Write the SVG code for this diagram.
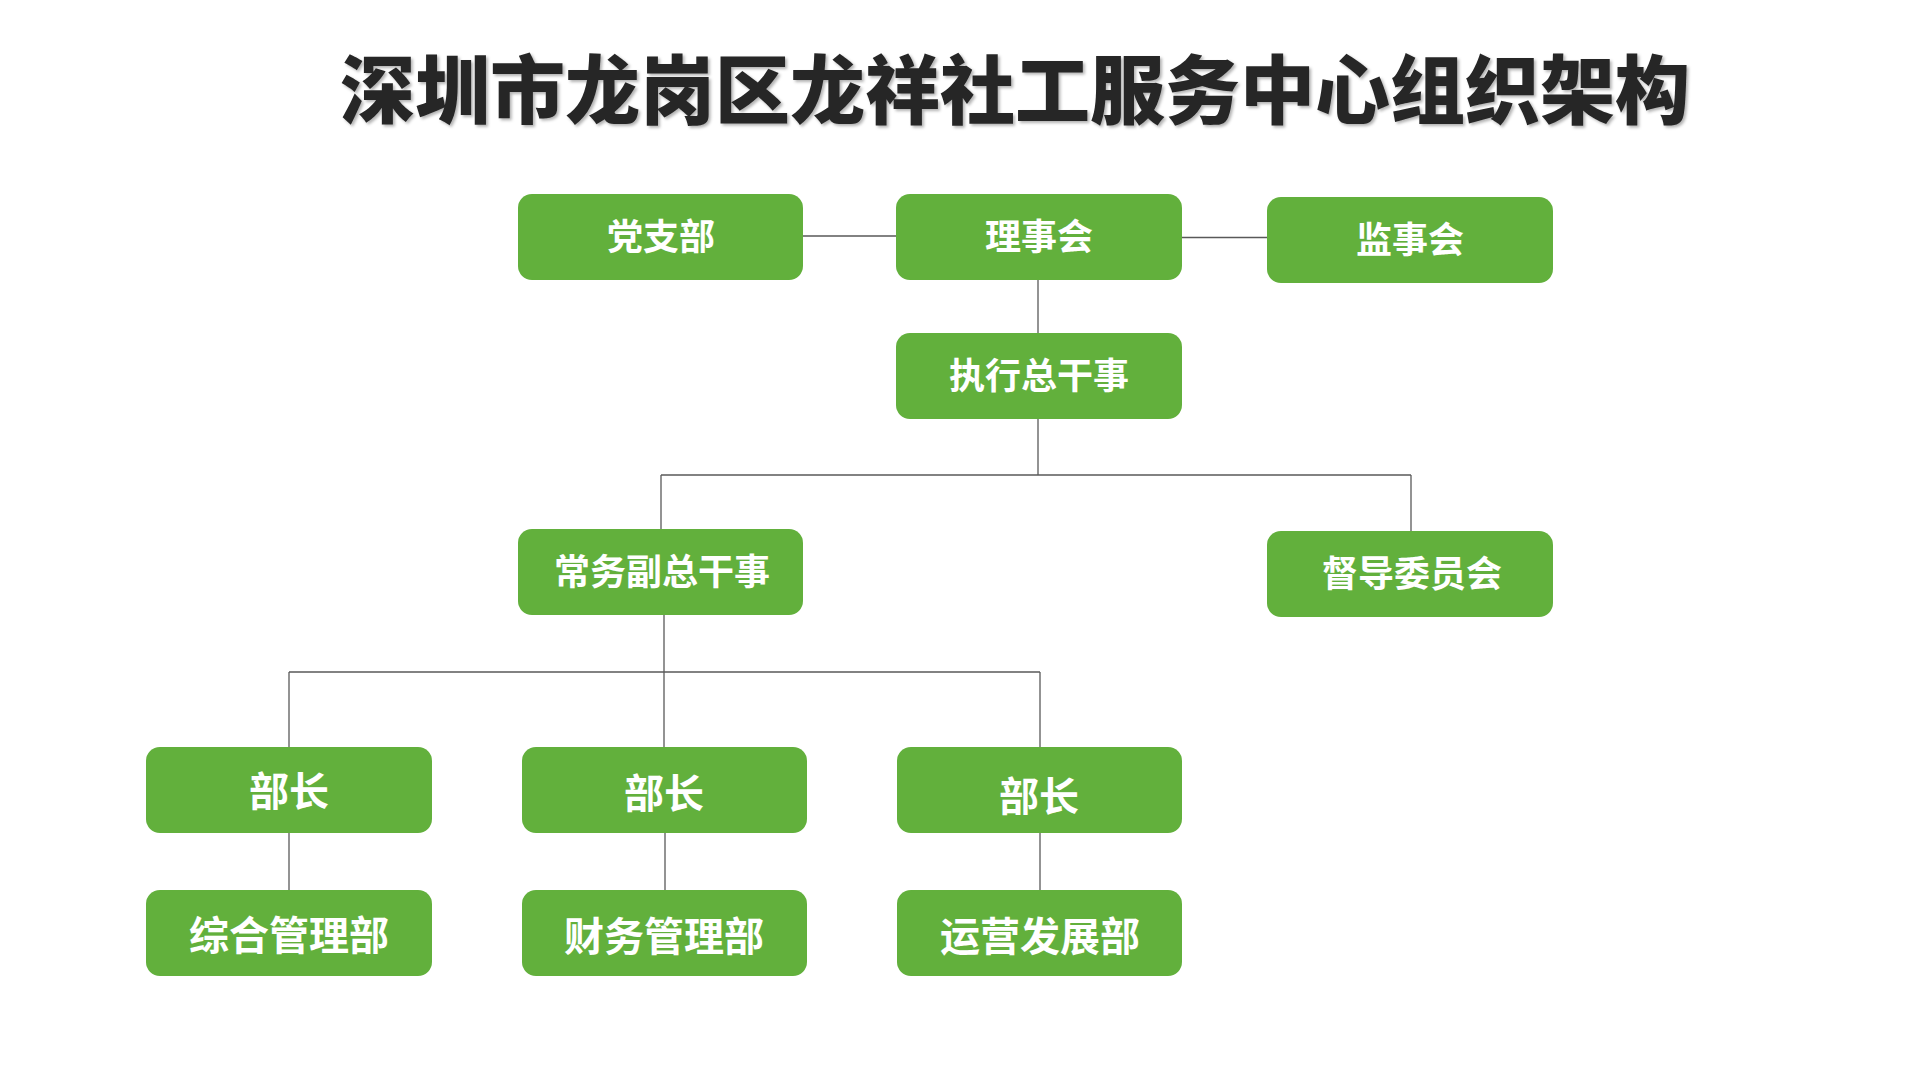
<svg xmlns="http://www.w3.org/2000/svg" width="1920" height="1080" viewBox="0 0 1920 1080">
  <defs>
    <filter id="shadow" x="-5%" y="-20%" width="110%" height="150%">
      <feDropShadow dx="2" dy="2" stdDeviation="1.5" flood-color="#000" flood-opacity="0.3"/>
    </filter>
  </defs>
  <style>
    .box { fill: #62B03C; }
    .lbl { fill: #FFFFFF; font-family: "Noto Sans CJK SC", "Noto Sans", sans-serif; font-weight: 700; text-anchor: middle; }
    .s36 { font-size: 36px; }
    .s40 { font-size: 40px; }
    .title { fill: #262626; font-family: "Noto Sans CJK SC", "Noto Sans", sans-serif; font-weight: 900; font-size: 75px; text-anchor: middle; }
    .conn line { stroke: #595959; stroke-width: 1.3; fill: none; }
  </style>
  <rect width="1920" height="1080" fill="#FFFFFF"/>
  <text class="title" x="1015" y="118" filter="url(#shadow)">深圳市龙岗区龙祥社工服务中心组织架构</text>

  <g id="connectors" class="conn">
    <line x1="803" y1="236" x2="896" y2="236"/>
    <line x1="1182" y1="237.5" x2="1267" y2="237.5"/>
    <line x1="1038" y1="280" x2="1038" y2="333"/>
    <line x1="1038" y1="419" x2="1038" y2="475"/>
    <line x1="661" y1="475" x2="1411" y2="475"/>
    <line x1="661" y1="475" x2="661" y2="529"/>
    <line x1="1411" y1="475" x2="1411" y2="531"/>
    <line x1="664" y1="615" x2="664" y2="672"/>
    <line x1="289" y1="672" x2="1040" y2="672"/>
    <line x1="289" y1="672" x2="289" y2="747"/>
    <line x1="664" y1="672" x2="664" y2="747"/>
    <line x1="1040" y1="672" x2="1040" y2="747"/>
    <line x1="289" y1="833" x2="289" y2="890"/>
    <line x1="665" y1="833" x2="665" y2="890"/>
    <line x1="1040" y1="833" x2="1040" y2="890"/>
  </g>

  <g id="node-dangzhibu">
    <rect class="box" x="518" y="194" width="285" height="86" rx="14"/>
    <text class="lbl s36" x="661" y="250">党支部</text>
  </g>
  <g id="node-lishihui">
    <rect class="box" x="896" y="194" width="286" height="86" rx="14"/>
    <text class="lbl s36" x="1039" y="250">理事会</text>
  </g>
  <g id="node-jianshihui">
    <rect class="box" x="1267" y="197" width="286" height="86" rx="14"/>
    <text class="lbl s36" x="1410" y="253">监事会</text>
  </g>
  <g id="node-zhixing">
    <rect class="box" x="896" y="333" width="286" height="86" rx="14"/>
    <text class="lbl s36" x="1039" y="389">执行总干事</text>
  </g>
  <g id="node-changwu">
    <rect class="box" x="518" y="529" width="285" height="86" rx="14"/>
    <text class="lbl s36" x="662" y="585">常务副总干事</text>
  </g>
  <g id="node-dudao">
    <rect class="box" x="1267" y="531" width="286" height="86" rx="14"/>
    <text class="lbl s36" x="1412" y="587">督导委员会</text>
  </g>
  <g id="node-buzhang1">
    <rect class="box" x="146" y="747" width="286" height="86" rx="14"/>
    <text class="lbl s40" x="289" y="806">部长</text>
  </g>
  <g id="node-buzhang2">
    <rect class="box" x="522" y="747" width="285" height="86" rx="14"/>
    <text class="lbl s40" x="664" y="808">部长</text>
  </g>
  <g id="node-buzhang3">
    <rect class="box" x="897" y="747" width="285" height="86" rx="14"/>
    <text class="lbl s40" x="1039" y="811">部长</text>
  </g>
  <g id="node-zonghe">
    <rect class="box" x="146" y="890" width="286" height="86" rx="14"/>
    <text class="lbl s40" x="289" y="950">综合管理部</text>
  </g>
  <g id="node-caiwu">
    <rect class="box" x="522" y="890" width="285" height="86" rx="14"/>
    <text class="lbl s40" x="664" y="951">财务管理部</text>
  </g>
  <g id="node-yunying">
    <rect class="box" x="897" y="890" width="285" height="86" rx="14"/>
    <text class="lbl s40" x="1040" y="951">运营发展部</text>
  </g>
</svg>
